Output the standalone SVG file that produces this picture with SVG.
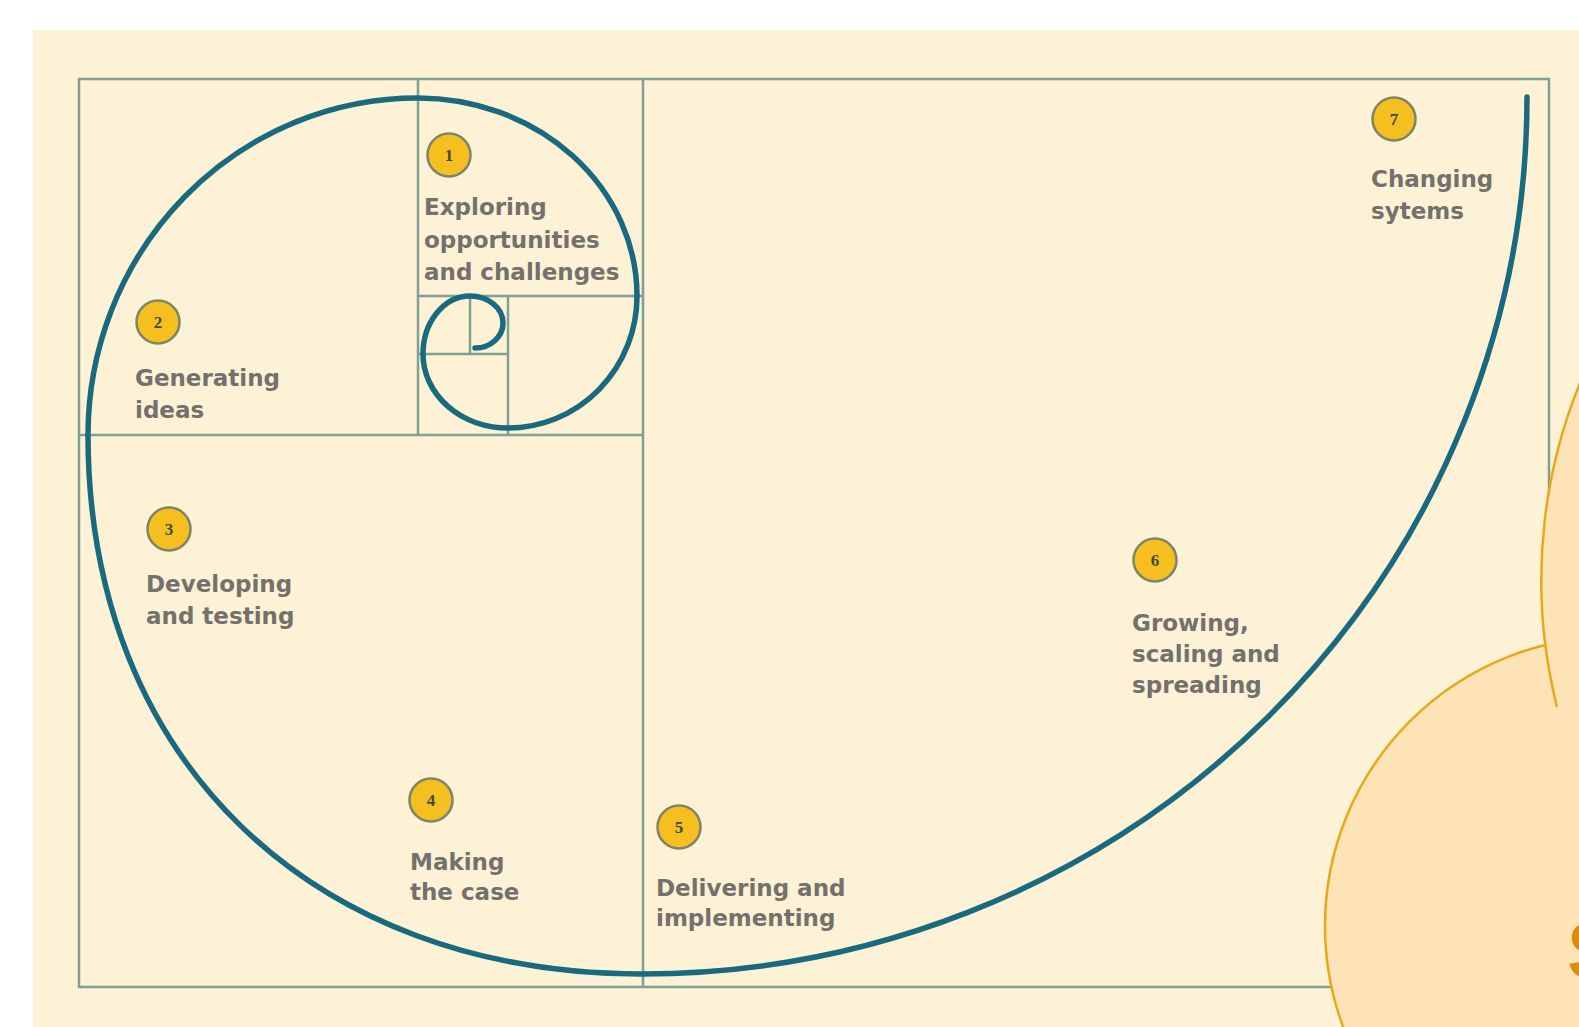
<svg xmlns="http://www.w3.org/2000/svg" width="1579" height="1027" viewBox="0 0 1579 1027">
<style>
.grid{fill:none;stroke:#80A094;stroke-width:2.5}
.spiral{fill:none;stroke:#1A6A7F;stroke-width:5.5;stroke-linecap:round;stroke-linejoin:round}
.badge{fill:#F5BF1F;stroke:#7E8467;stroke-width:2.5}
.num{font-family:"Liberation Serif","DejaVu Serif",serif;font-weight:bold;font-size:17px;fill:#3F4A3C;text-anchor:middle}
.lbl{font-family:"DejaVu Sans","Liberation Sans",sans-serif;font-weight:bold;font-size:23px;fill:#74706B}
.blob{fill:#FDE3B6}
.blobline{fill:none;stroke:#E9A81A;stroke-width:2.5}
</style>
<rect x="0" y="0" width="1579" height="1027" fill="#FFFFFF"/>
<rect x="33" y="30" width="1546" height="997" fill="#FDF2D6"/>
<g id="grid">
<rect class="grid" x="79" y="79" width="1470" height="908"/>
<line class="grid" x1="643" y1="79" x2="643" y2="987"/>
<line class="grid" x1="79" y1="435" x2="643" y2="435"/>
<line class="grid" x1="418" y1="79" x2="418" y2="435"/>
<line class="grid" x1="418" y1="296" x2="643" y2="296"/>
<line class="grid" x1="508" y1="296" x2="508" y2="435"/>
<line class="grid" x1="418" y1="354" x2="508" y2="354"/>
<line class="grid" x1="470" y1="296" x2="470" y2="354"/>
</g>
<g id="connectors">
<path class="spiral" d="M 1527 97 A 885 877 0 0 1 642 974 C 310 974 88 758 88 435 A 330 337 0 0 1 418 98 A 219 198 0 0 1 637 296 A 129 132 0 0 1 508 428 A 85 74 0 0 1 423 354 A 47 58 0 0 1 470 296 A 33 27 0 0 1 503 323 A 28 25 0 0 1 475 348"/>
</g>
<g id="step1">
<circle class="badge" cx="449" cy="155" r="21.5"/>
<text class="num" x="449" y="161">1</text>
<text class="lbl"><tspan x="424" y="215">Exploring</tspan><tspan x="424" y="248">opportunities</tspan><tspan x="424" y="280">and challenges</tspan></text>
</g>
<g id="step2">
<circle class="badge" cx="158" cy="322" r="21.5"/>
<text class="num" x="158" y="328">2</text>
<text class="lbl"><tspan x="135" y="386">Generating</tspan><tspan x="135" y="418">ideas</tspan></text>
</g>
<g id="step3">
<circle class="badge" cx="169" cy="529" r="21.5"/>
<text class="num" x="169" y="535">3</text>
<text class="lbl"><tspan x="146" y="592">Developing</tspan><tspan x="146" y="624">and testing</tspan></text>
</g>
<g id="step4">
<circle class="badge" cx="431" cy="800" r="21.5"/>
<text class="num" x="431" y="806">4</text>
<text class="lbl"><tspan x="410" y="870">Making</tspan><tspan x="410" y="900">the case</tspan></text>
</g>
<g id="step5">
<circle class="badge" cx="679" cy="827" r="21.5"/>
<text class="num" x="679" y="833">5</text>
<text class="lbl"><tspan x="656" y="896">Delivering and</tspan><tspan x="656" y="926">implementing</tspan></text>
</g>
<g id="step6">
<circle class="badge" cx="1155" cy="560" r="21.5"/>
<text class="num" x="1155" y="566">6</text>
<text class="lbl"><tspan x="1132" y="631">Growing,</tspan><tspan x="1132" y="662">scaling and</tspan><tspan x="1132" y="693">spreading</tspan></text>
</g>
<g id="step7">
<circle class="badge" cx="1394" cy="119" r="21.5"/>
<text class="num" x="1394" y="125">7</text>
<text class="lbl"><tspan x="1371" y="187">Changing</tspan><tspan x="1371" y="219">sytems</tspan></text>
</g>
<g id="overlay">
<circle class="blob" cx="1614.5" cy="926" r="289.5"/>
<circle class="blobline" cx="1614.5" cy="926" r="289.5"/>
<circle class="blob" cx="2061" cy="581" r="520"/>
<path class="blobline" d="M 1600 340 A 520 520 0 0 0 1557 707"/>
<text x="1567" y="978" font-family="'Liberation Sans','DejaVu Sans',sans-serif" font-weight="bold" font-size="80" fill="#E08A0B">S</text>
</g>
</svg>
